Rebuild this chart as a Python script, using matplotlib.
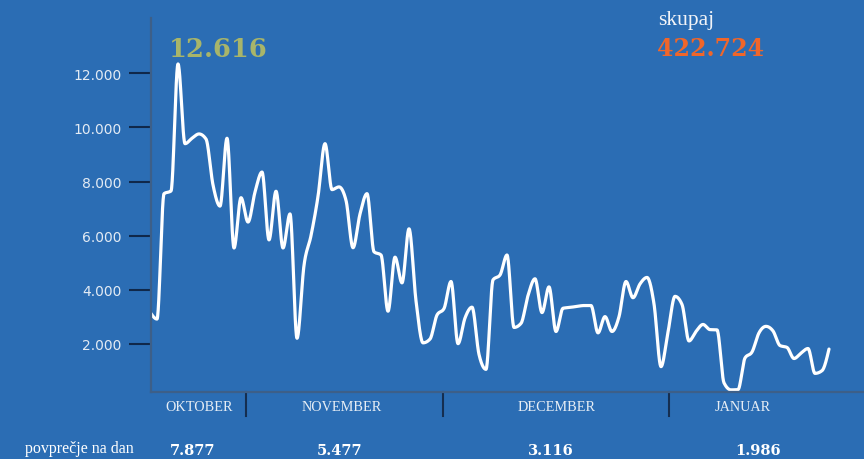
import numpy as np
import matplotlib
matplotlib.use("Agg")
import matplotlib.pyplot as plt
from matplotlib.transforms import blended_transform_factory

# ---------------- data ----------------
daily_visits = [3170, 2910, 7550, 7650, 12350, 9400, 9600, 9760, 9570, 7870,
                7090, 9600, 5540, 7400, 6500, 7610, 8350, 5840, 7640, 5540,
                6800, 2200, 4900, 6000, 7450, 9400, 7700, 7800, 7300, 5550,
                6800, 7550, 5400, 5280, 3200, 5200, 4250, 6250, 3580, 2030,
                2170, 3060, 3300, 4300, 2000, 2950, 3350, 1600, 1050, 4360,
                4540, 5280, 2600, 2750, 3780, 4400, 3150, 4100, 2450, 3310,
                3340, 3380, 3410, 3410, 2400, 3000, 2450, 3000, 4300, 3700,
                4210, 4450, 3470, 1150, 2430, 3750, 3450, 2100, 2450, 2710,
                2520, 2510, 550, 290, 300, 1470, 1690, 2400, 2640, 2470,
                1930, 1860, 1450, 1650, 1820, 900, 1000, 1800]
days = list(range(len(daily_visits)))

months = ["OKTOBER", "NOVEMBER", "DECEMBER", "JANUAR"]
month_avg = ["7.877", "5.477", "3.116", "1.986"]
avg_label = "povprečje na dan"
peak_value = "12.616"
total_label = "skupaj"
total_value = "422.724"
y_ticks = [2000, 4000, 6000, 8000, 10000, 12000]

# ---------------- style ----------------
BG = "#2b6db4"
W, H = 864, 460


def fx(px):
    return px / W


def fy(py):
    return 1 - py / H


def monotone_x(x, y, n=24):
    """Monotone cubic interpolation (same rule as d3.curveMonotoneX)."""
    x = np.asarray(x, float)
    y = np.asarray(y, float)
    h = np.diff(x)
    s = np.diff(y) / h
    m = np.zeros_like(y)
    for i in range(1, len(y) - 1):
        s0, s1 = s[i - 1], s[i]
        p = (s0 * h[i] + s1 * h[i - 1]) / (h[i - 1] + h[i])
        m[i] = (np.sign(s0) + np.sign(s1)) * min(abs(s0), abs(s1), 0.5 * abs(p))
    m[0] = (3 * s[0] - m[1]) / 2
    m[-1] = (3 * s[-1] - m[-2]) / 2
    t = np.linspace(0, 1, n, endpoint=False)
    xs, ys = [], []
    for i in range(len(y) - 1):
        dx = h[i]
        xs.append(x[i] + dx * t)
        h00 = 2 * t ** 3 - 3 * t ** 2 + 1
        h10 = t ** 3 - 2 * t ** 2 + t
        h01 = -2 * t ** 3 + 3 * t ** 2
        h11 = t ** 3 - t ** 2
        ys.append(h00 * y[i] + h10 * dx * m[i] + h01 * y[i + 1] + h11 * dx * m[i + 1])
    xs.append([x[-1]])
    ys.append([y[-1]])
    return np.concatenate(xs), np.concatenate(ys)


fig = plt.figure(figsize=(W / 100, H / 100), dpi=100, facecolor=BG)
ax = fig.add_axes([fx(151), fy(393.3), 1 - fx(151), (393.3 - 19) / H])
ax.set_facecolor(BG)

sx, sy = monotone_x(days, daily_visits)
ax.plot(sx, sy, color="white", lw=2.3, solid_capstyle="round",
        solid_joinstyle="round")

ax.set_xlim(0.14, 102)
ax.set_ylim(200, 14050)

for s in ["top", "right"]:
    ax.spines[s].set_visible(False)
for s in ["left", "bottom"]:
    ax.spines[s].set_color("#3d5f88")
    ax.spines[s].set_linewidth(1.6)

ax.set_xticks([])
ax.set_yticks(y_ticks)
ax.set_yticklabels(["{:,}".format(v).replace(",", ".") for v in y_ticks],
                   fontsize=10, color="#e3ebf4", family="DejaVu Sans")
ax.tick_params(axis="y", length=16, width=1.5, color="#10284a", pad=5)

# month dividers (positions in day units)
trans = blended_transform_factory(ax.transData, ax.transAxes)
for d in [13.7, 41.86, 74.14]:
    ax.plot([d, d], [0, -0.063], transform=trans, color="#152e50",
            lw=1.5, clip_on=False)

# month labels
for name, cx in zip(months, [199, 342, 556.5, 743]):
    fig.text(fx(cx), fy(408), name, ha="center", va="center",
             fontsize=10.3, color="#e6edf5", family="Liberation Serif")

# averages row
fig.text(fx(79.5), fy(449.5), avg_label, ha="center", va="center",
         fontsize=11.5, color="white", family="Liberation Serif")
for val, cx in zip(month_avg, [193, 340, 551, 758]):
    fig.text(fx(cx), fy(451), val, ha="center", va="center",
             fontsize=10.5, color="white", family="DejaVu Serif",
             fontweight="bold")

# headline numbers
fig.text(fx(169), fy(57), peak_value, ha="left", va="baseline",
         fontsize=18.5, color="#a8b56a", family="DejaVu Serif",
         fontweight="bold")
fig.text(fx(658), fy(25), total_label, ha="left", va="baseline",
         fontsize=15.5, color="#f2f4f8", family="Liberation Serif")
fig.text(fx(657), fy(56), total_value, ha="left", va="baseline",
         fontsize=17, color="#f0662a", family="DejaVu Serif",
         fontweight="bold")

fig.savefig("out.png", dpi=100, facecolor=BG)
